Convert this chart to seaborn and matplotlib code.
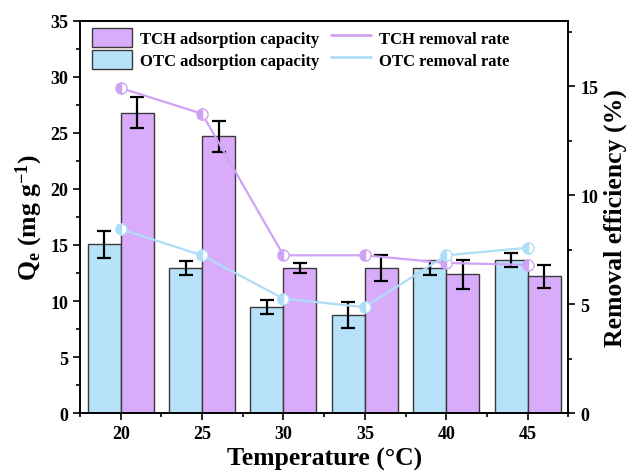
import numpy as np
import pandas as pd
import seaborn as sns
import matplotlib
matplotlib.use("Agg")
import matplotlib.pyplot as plt
from matplotlib.patches import Patch
from matplotlib.lines import Line2D
from matplotlib.ticker import MultipleLocator

temperatures = [20, 25, 30, 35, 40, 45]
otc_capacity = [15.05, 12.95, 9.45, 8.75, 12.95, 13.65]
otc_capacity_err = [1.2, 0.6, 0.65, 1.2, 0.6, 0.6]
tch_capacity = [26.8, 24.7, 12.95, 12.95, 12.4, 12.2]
tch_capacity_err = [1.4, 1.4, 0.45, 1.2, 1.3, 1.0]
tch_removal = [14.92, 13.74, 7.24, 7.24, 6.89, 6.80]
otc_removal = [8.44, 7.24, 5.25, 4.86, 7.24, 7.59]

series_names = ["OTC adsorption capacity", "TCH adsorption capacity"]
bar_colors = {"OTC adsorption capacity": "#B8E2FA", "TCH adsorption capacity": "#D8ACFA"}
tch_line_color = "#CFA2F4"
otc_line_color = "#ADDDF7"

sns.set_theme(style="ticks")
plt.rcParams["font.family"] = ["Liberation Serif", "DejaVu Serif"]
plt.rcParams["font.weight"] = "bold"
plt.rcParams["text.color"] = "black"
plt.rcParams["axes.labelcolor"] = "black"
plt.rcParams["xtick.color"] = "black"
plt.rcParams["ytick.color"] = "black"
plt.rcParams["mathtext.fontset"] = "custom"
plt.rcParams["mathtext.rm"] = "Liberation Serif:bold"
plt.rcParams["mathtext.it"] = "Liberation Serif:bold"
plt.rcParams["mathtext.default"] = "rm"

df = pd.DataFrame({
    "Temperature": [str(t) for t in temperatures] * 2,
    "Series": [series_names[0]] * len(temperatures) + [series_names[1]] * len(temperatures),
    "Qe": otc_capacity + tch_capacity,
    "err": otc_capacity_err + tch_capacity_err,
})

fig = plt.figure(figsize=(6.3, 4.77), dpi=100)
ax = fig.add_axes([0.127, 0.132, 0.775, 0.822])

sns.barplot(data=df, x="Temperature", y="Qe", hue="Series", hue_order=series_names,
            palette=bar_colors, saturation=1, width=0.81, errorbar=None,
            edgecolor="#3a3a3a", linewidth=1.0, ax=ax, legend=False, zorder=2)

# error bars from bar patch centers
for name, container in zip(series_names, ax.containers):
    sub = df[df["Series"] == name]
    xs = [p.get_x() + p.get_width() / 2 for p in container.patches]
    ax.errorbar(xs, sub["Qe"].values, yerr=sub["err"].values, fmt="none",
                ecolor="black", elinewidth=1.6, capsize=5, capthick=1.6, zorder=3)

ax.set_xlim(-0.5, len(temperatures) - 0.5)
ax.set_ylim(0, 35)
ax.yaxis.set_major_locator(MultipleLocator(5))
ax.yaxis.set_minor_locator(MultipleLocator(2.5))
ax.xaxis.set_minor_locator(MultipleLocator(0.5))
ax.set_xticks(range(len(temperatures)))
ax.set_xticklabels([str(t) for t in temperatures])
ax.tick_params(axis="both", which="major", direction="out", length=5, width=1.2,
               labelsize=13, colors="black")
ax.tick_params(axis="both", which="minor", direction="out", length=3, width=1.2)
for lab in ax.get_xticklabels() + ax.get_yticklabels():
    lab.set_fontweight("bold")
ax.set_xlabel("Temperature (°C)", fontsize=18.5, fontweight="bold", labelpad=4, color="black")
ax.set_ylabel("Q$_e$ (mg g$^{-1}$)", fontsize=18.5, fontweight="bold", labelpad=4, color="black")
for s in ax.spines.values():
    s.set_linewidth(1.2)
    s.set_color("black")

ax2 = ax.twinx()
xpos = np.arange(len(temperatures))
sns.lineplot(x=xpos, y=tch_removal, ax=ax2, color=tch_line_color, linewidth=1.6,
             marker="o", markersize=8, fillstyle="left", markerfacecoloralt="white",
             markeredgecolor=tch_line_color, markeredgewidth=1.0, legend=False)
sns.lineplot(x=xpos, y=otc_removal, ax=ax2, color=otc_line_color, linewidth=1.6,
             marker="o", markersize=8, fillstyle="left", markerfacecoloralt="white",
             markeredgecolor=otc_line_color, markeredgewidth=1.0, legend=False)
ax2.set_ylim(0, 18)
ax2.set_xlim(-0.5, len(temperatures) - 0.5)
ax2.yaxis.set_major_locator(MultipleLocator(5))
ax2.yaxis.set_minor_locator(MultipleLocator(2.5))
ax2.tick_params(axis="y", which="major", direction="out", length=5, width=1.2,
                labelsize=13, colors="black")
ax2.tick_params(axis="y", which="minor", direction="out", length=3, width=1.2)
for lab in ax2.get_yticklabels():
    lab.set_fontweight("bold")
ax2.set_ylabel("Removal efficiency (%)", fontsize=18.5, fontweight="bold", labelpad=4, color="black")
for s in ax2.spines.values():
    s.set_linewidth(1.2)
    s.set_color("black")

handles = [
    Patch(facecolor=bar_colors[series_names[1]], edgecolor="#3a3a3a", label=series_names[1]),
    Patch(facecolor=bar_colors[series_names[0]], edgecolor="#3a3a3a", label=series_names[0]),
    Line2D([], [], color=tch_line_color, linewidth=2, label="TCH removal rate"),
    Line2D([], [], color=otc_line_color, linewidth=2, label="OTC removal rate"),
]
leg = ax2.legend(handles=handles, ncol=2, loc="upper left", bbox_to_anchor=(0.0, 1.012),
                 frameon=False, prop={"weight": "bold", "size": 12},
                 handlelength=2.4, handleheight=1.4, columnspacing=0.7,
                 labelspacing=0.15, handletextpad=0.5, borderaxespad=0.3)
for t in leg.get_texts():
    t.set_color("black")

fig.savefig("out.png", dpi=100)
